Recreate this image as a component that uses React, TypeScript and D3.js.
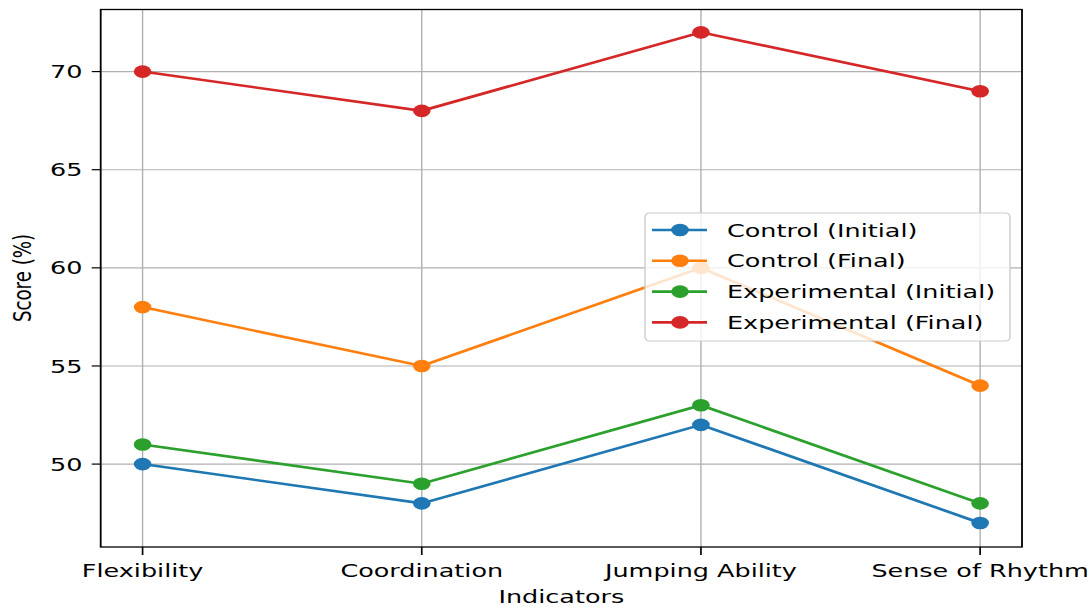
import React from "react";
import * as d3 from "d3";

const categories = ["Flexibility", "Coordination", "Jumping Ability", "Sense of Rhythm"];
const controlInitial = [50, 48, 52, 47];
const controlFinal = [58, 55, 60, 54];
const experimentalInitial = [51, 49, 53, 48];
const experimentalFinal = [70, 68, 72, 69];
const yTicks = [50, 55, 60, 65, 70];

const seriesNames = ["Control (Initial)", "Control (Final)", "Experimental (Initial)", "Experimental (Final)"];
const seriesColors = ["#1f77b4", "#ff7f0e", "#2ca02c", "#d62728"];
const seriesValues = [controlInitial, controlFinal, experimentalInitial, experimentalFinal];

const SX = 1.4;
const W = 1091;
const H = 608;
const VW = W / SX;

export default function App() {
  const left = 100.7 / SX;
  const right = 1022 / SX;
  const top = 9.5;
  const bottom = 547;
  const x = d3.scaleLinear().domain([-0.15, 3.15]).range([left, right]);
  const allVals = seriesValues.flat();
  const mn = d3.min(allVals)!;
  const mx = d3.max(allVals)!;
  const pad = (mx - mn) * 0.05;
  const y = d3.scaleLinear().domain([mn - pad, mx + pad]).range([547.5, 7.8]);
  const line = d3
    .line<number>()
    .x((_, i) => x(i))
    .y((d) => y(d));
  const fs = 18.2;
  const font = "DejaVu Sans, sans-serif";

  const legX = 645 / SX;
  const legY = 213;
  const legW = (1010 - 645) / SX;
  const legH = 128;

  return (
    <svg
      width={W}
      height={H}
      viewBox={`0 0 ${VW} ${H}`}
      preserveAspectRatio="none"
      style={{ position: "absolute", left: 0, top: 0, display: "block", background: "#fff" }}
      fontFamily={font}
    >
      <rect x={0} y={0} width={VW} height={H} fill="#fff" />
      {/* grid */}
      {categories.map((c, i) => (
        <line key={"gx" + c} x1={x(i)} x2={x(i)} y1={top} y2={bottom} stroke="#b0b0b0" strokeWidth={1} />
      ))}
      {yTicks.map((t) => (
        <line key={"gy" + t} x1={left} x2={right} y1={y(t)} y2={y(t)} stroke="#b0b0b0" strokeWidth={1.1} />
      ))}
      {/* series */}
      {seriesValues.map((vals, si) => (
        <g key={seriesNames[si]}>
          <path d={line(vals) || ""} fill="none" stroke={seriesColors[si]} strokeWidth={2.6} />
          {vals.map((v, i) => (
            <circle key={i} cx={x(i)} cy={y(v)} r={6.3} fill={seriesColors[si]} />
          ))}
        </g>
      ))}
      {/* spines */}
      <rect x={left} y={top} width={right - left} height={bottom - top} fill="none" stroke="#000" strokeWidth={1.3} />
      {/* y ticks */}
      {yTicks.map((t) => (
        <g key={"yt" + t}>
          <line x1={left - 6.4} x2={left} y1={y(t)} y2={y(t)} stroke="#000" strokeWidth={1.2} />
          <text x={left - 13} y={y(t)} dy="0.36em" textAnchor="end" fontSize={fs} fill="#000">
            {t}
          </text>
        </g>
      ))}
      {/* x ticks */}
      {categories.map((c, i) => (
        <g key={"xt" + c}>
          <line x1={x(i)} x2={x(i)} y1={bottom} y2={bottom + 8} stroke="#000" strokeWidth={1.2} />
          <text x={x(i)} y={577} textAnchor="middle" fontSize={fs} fill="#000">
            {c}
          </text>
        </g>
      ))}
      <text x={(left + right) / 2} y={603} textAnchor="middle" fontSize={fs} fill="#000">
        Indicators
      </text>
      <text
        transform={`translate(${31 / SX},${278}) rotate(-90)`}
        textAnchor="middle"
        fontSize={fs}
        fill="#000"
      >
        Score (%)
      </text>
      {/* legend */}
      <rect x={legX} y={legY} width={legW} height={legH} rx={3} ry={4} fill="#fff" fillOpacity={0.8} stroke="#cccccc" strokeWidth={1} />
      {seriesNames.map((n, i) => {
        const ly = 230 + i * 30.8;
        return (
          <g key={"lg" + n}>
            <line x1={652 / SX} x2={707 / SX} y1={ly} y2={ly} stroke={seriesColors[i]} strokeWidth={2.6} />
            <circle cx={680 / SX} cy={ly} r={6.3} fill={seriesColors[i]} />
            <text x={727 / SX} y={ly} dy="0.36em" fontSize={fs} fill="#000">
              {n}
            </text>
          </g>
        );
      })}
    </svg>
  );
}
